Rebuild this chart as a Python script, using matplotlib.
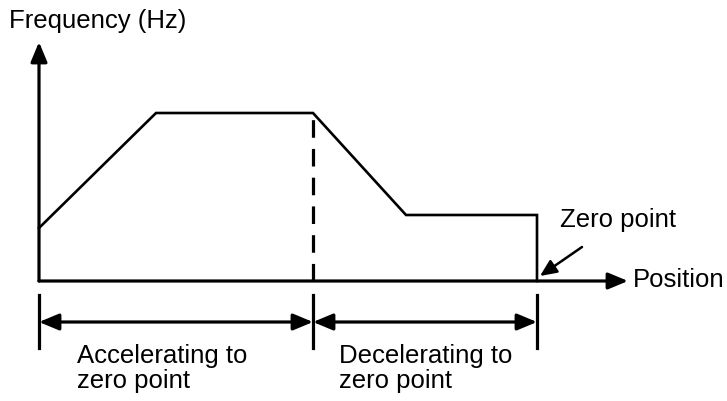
import matplotlib.pyplot as plt

# Frequency profile (position vs frequency, arbitrary units measured from origin)
position = [0, 117, 274, 367, 498, 498]
frequency = [53, 168, 168, 66, 66, 0]

# dimension marks below the axis
segment_bounds = [0, 274, 498]
segment_labels = [["Accelerating to", "zero point"],
                  ["Decelerating to", "zero point"]]

x_label = "Position"
y_label = "Frequency (Hz)"
zero_label = "Zero point"

plt.rcParams['font.family'] = ['Liberation Sans', 'DejaVu Sans']

fig = plt.figure(figsize=(7.27, 4.01), dpi=100)
ax = fig.add_axes([0, 0, 1, 1])
ax.set_xlim(-39, 688)
ax.set_ylim(-120, 281)
ax.axis('off')

fs = 18.5
axis_lw = 2.3
arrow_style = '-|>,head_length=1.2,head_width=0.5'

def arrow(x0, y0, x1, y1, lw=axis_lw, style=arrow_style):
    ax.annotate('', xy=(x1, y1), xytext=(x0, y0),
                arrowprops=dict(arrowstyle=style, lw=lw, color='black',
                                mutation_scale=10, shrinkA=0, shrinkB=0))

# axes
arrow(0, 0, 0, 239)
arrow(0, 0, 589, 0)
ax.text(-30, 253, y_label, fontsize=fs, va='baseline', ha='left')
ax.text(594, -6, x_label, fontsize=fs, va='baseline', ha='left')

# profile
ax.plot(position, frequency, color='black', lw=1.9, solid_joinstyle='miter')
ax.plot([position[2], position[2]], [0, frequency[2]], color='black',
        lw=2.3, dashes=(5.5, 3.5))

# zero point callout
ax.text(521, 54, zero_label, fontsize=fs, va='baseline', ha='left')
arrow(543, 34, 501, 5, lw=1.8, style='-|>,head_length=1.0,head_width=0.45')

# dimension lines
for b in segment_bounds:
    ax.plot([b, b], [-14, -67], color='black', lw=axis_lw)
for i in range(len(segment_bounds) - 1):
    a, b = segment_bounds[i], segment_bounds[i + 1]
    arrow(a, -41, b, -41, style='<|-|>,head_length=1.2,head_width=0.5')
    for j, line in enumerate(segment_labels[i]):
        ax.text(a + 38 - (12 if i == 1 else 0), -82 - 25 * j, line,
                fontsize=fs, va='baseline', ha='left')

fig.savefig('out.png', dpi=100)
